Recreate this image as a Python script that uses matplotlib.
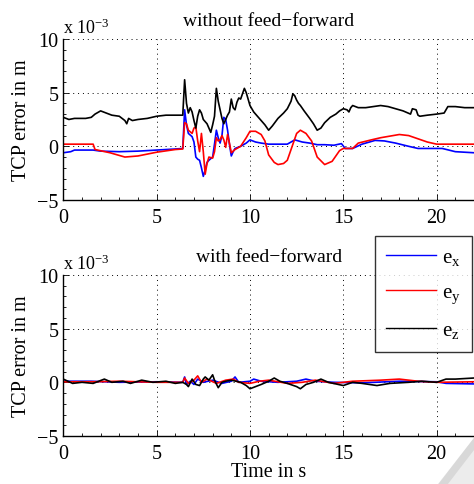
import numpy as np
import matplotlib.pyplot as plt
from matplotlib.ticker import MultipleLocator
from matplotlib.patches import Polygon

plt.rcParams['font.family'] = ['Liberation Serif', 'DejaVu Serif']
plt.rcParams['mathtext.fontset'] = 'stix'

# TCP error in 1e-3 m, (time in s, value)
ex_top = [(0, -0.6), (0.4, -0.5), (0.6, -0.35), (1.0, -0.35), (1.6, -0.35), (2.0, -0.45),
          (3.0, -0.5), (4.0, -0.45), (5.0, -0.35), (6.0, -0.25), (6.4, -0.2), (6.5, 3.4),
          (6.6, 2.0), (6.7, 1.2), (6.9, 0.9), (7.0, 0.4), (7.1, -1.0), (7.2, -1.2), (7.3, -1.3),
          (7.4, -2.0), (7.5, -2.8), (7.6, -2.2), (7.7, -1.5), (7.8, -1.3), (8.0, -1.0), (8.1, 0.2),
          (8.2, 1.5), (8.3, 0.8), (8.4, 0.3), (8.5, 1.0), (8.6, 2.7), (8.7, 2.5), (8.8, 1.5),
          (8.9, 0.2), (9.0, -0.9), (9.1, -0.5), (9.2, -0.2), (9.5, 0.0), (9.8, 0.3), (10.0, 0.6),
          (10.3, 0.4), (10.6, 0.3), (11.0, 0.2), (11.5, 0.2), (12.0, 0.2), (12.4, 0.6),
          (12.8, 0.4), (13.2, 0.3), (13.6, 0.15), (14.0, 0.15), (14.5, 0.1), (14.9, 0.25),
          (15.1, -0.2), (15.5, -0.2), (16.0, 0.2), (16.7, 0.55), (17.2, 0.5), (17.8, 0.3),
          (18.5, 0.0), (19.0, -0.2), (19.5, -0.2), (20.3, -0.2), (21.0, -0.5), (22.0, -0.6)]

ey_top = [(0, 0.2), (1.6, 0.2), (1.7, -0.3), (2.5, -0.6), (3.3, -1.0), (4.0, -0.9),
          (5.0, -0.55), (6.0, -0.3), (6.4, -0.25), (6.5, 2.2), (6.6, 2.1), (6.7, 1.5),
          (6.9, 1.2), (7.0, 1.7), (7.1, 1.8), (7.2, 0.5), (7.3, -0.5), (7.4, 1.2), (7.5, -0.5),
          (7.6, -2.6), (7.7, -1.6), (7.8, -1.0), (8.0, -1.1), (8.1, -0.5), (8.2, 0.8),
          (8.3, 0.5), (8.4, 0.6), (8.5, 1.0), (8.6, 0.6), (8.7, -0.1), (8.8, 1.1), (8.9, 0.3),
          (9.0, -0.6), (9.2, -0.3), (9.5, 0.0), (9.8, 0.8), (10.0, 1.4), (10.3, 1.4),
          (10.6, 1.1), (10.8, 0.5), (11.0, -0.8), (11.3, -1.5), (11.5, -1.7), (11.8, -1.6),
          (12.0, -1.3), (12.3, 0.2), (12.5, 1.2), (12.7, 1.5), (13.0, 1.2), (13.3, 0.5),
          (13.6, -1.0), (14.0, -1.7), (14.4, -1.4), (14.8, -0.4), (15.0, -0.2), (15.5, -0.2),
          (15.8, 0.3), (16.5, 0.6), (17.0, 0.8), (18.0, 1.1), (18.5, 1.0), (19.0, 0.7),
          (19.5, 0.4), (20.0, 0.2), (22.0, 0.2)]

ez_top = [(0, 2.7), (0.3, 2.5), (0.6, 2.6), (0.9, 2.6), (1.2, 2.6), (1.5, 2.7), (1.7, 3.0),
          (2.0, 3.3), (2.3, 3.1), (2.6, 2.9), (3.0, 2.8), (3.3, 2.4), (3.4, 2.1), (3.5, 2.6),
          (3.7, 2.4), (4.0, 2.5), (4.5, 2.6), (5.0, 2.8), (5.5, 2.9), (6.0, 2.9), (6.4, 2.9),
          (6.5, 6.2), (6.6, 4.0), (6.7, 3.1), (6.8, 3.6), (6.9, 3.2), (7.0, 2.4), (7.1, 1.7),
          (7.2, 2.8), (7.3, 3.4), (7.4, 3.1), (7.5, 2.5), (7.6, 2.3), (7.7, 2.1), (7.8, 1.7),
          (7.9, 1.3), (8.0, 2.0), (8.1, 2.8), (8.2, 5.4), (8.3, 4.2), (8.4, 3.4), (8.5, 2.6),
          (8.6, 2.1), (8.7, 2.5), (8.8, 2.9), (8.9, 3.2), (9.0, 4.4), (9.1, 3.6), (9.2, 3.4),
          (9.3, 4.1), (9.4, 4.5), (9.5, 4.4), (9.6, 4.9), (9.7, 5.4), (9.8, 5.0), (9.9, 4.4),
          (10.0, 3.8), (10.2, 3.2), (10.5, 2.6), (10.8, 2.0), (11.0, 1.5), (11.2, 1.9),
          (11.5, 2.6), (11.8, 3.1), (12.0, 3.5), (12.2, 4.2), (12.3, 4.9), (12.4, 4.7),
          (12.5, 4.3), (12.6, 4.0), (12.7, 3.8), (12.9, 3.3), (13.2, 2.6), (13.4, 2.1),
          (13.6, 1.5), (13.8, 1.7), (14.0, 2.2), (14.3, 2.7), (14.6, 3.0), (14.8, 3.3),
          (15.0, 3.5), (15.2, 3.4), (15.3, 3.2), (15.4, 3.6), (15.5, 3.8), (15.8, 3.6),
          (16.2, 3.6), (16.6, 3.7), (17.0, 3.8), (17.4, 3.7), (17.8, 3.5), (18.2, 3.3),
          (18.6, 3.0), (18.7, 3.5), (18.9, 3.4), (19.0, 2.9), (19.1, 2.8), (19.5, 2.9),
          (20.0, 3.0), (20.4, 3.1), (20.6, 3.7), (21.0, 3.7), (21.5, 3.6), (22.0, 3.6)]

ex_bot = [(0, 0.1), (1.5, 0.1), (3.0, 0.0), (5.0, 0.05), (6.4, 0.0), (6.5, 0.5), (6.6, -0.2),
          (6.8, 0.1), (7.0, -0.2), (7.2, 0.3), (7.5, 0.0), (8.0, 0.2), (8.5, -0.1), (9.0, 0.1),
          (9.2, 0.5), (9.4, 0.0), (10.0, 0.1), (10.2, 0.3), (10.6, 0.1), (11.5, 0.0),
          (12.5, 0.1), (13.0, 0.3), (13.5, 0.1), (14.5, 0.0), (16.0, -0.05), (18.0, 0.1),
          (20.0, 0.05), (20.5, -0.1), (22.0, -0.15)]

ey_bot = [(0, 0.05), (1.5, 0.05), (3.0, 0.1), (5.0, 0.0), (6.4, 0.0), (6.5, 0.4), (6.7, -0.1),
          (7.0, 0.2), (7.2, 0.6), (7.4, 0.0), (7.7, 0.3), (8.2, -0.1), (8.7, 0.2), (9.1, 0.3),
          (9.4, 0.0), (10.0, -0.1), (10.5, 0.1), (11.0, 0.2), (12.0, -0.1), (12.8, 0.0),
          (13.5, 0.2), (14.5, -0.1), (15.5, 0.1), (17.0, 0.2), (18.0, 0.3), (19.0, 0.1),
          (20.0, 0.0), (22.0, 0.05)]

ez_bot = [(0, 0.3), (0.5, -0.1), (1.0, 0.0), (1.6, -0.1), (2.2, 0.3), (2.6, 0.0), (3.2, 0.1),
          (3.6, -0.1), (4.2, 0.2), (4.8, 0.0), (5.5, 0.1), (6.0, -0.1), (6.4, 0.0), (6.6, -0.2),
          (6.7, -0.4), (6.9, 0.3), (7.1, -0.2), (7.3, -0.3), (7.5, 0.3), (7.6, 0.5), (7.8, 0.2),
          (8.0, 0.7), (8.1, 0.2), (8.3, -0.5), (8.5, 0.0), (8.7, 0.1), (9.0, 0.2), (9.5, 0.0),
          (9.8, -0.3), (10.0, -0.6), (10.3, -0.4), (10.6, -0.2), (11.0, 0.1), (11.3, 0.4),
          (11.6, 0.1), (12.0, -0.1), (12.5, -0.4), (12.7, -0.6), (13.0, -0.2), (13.4, 0.0),
          (13.8, 0.3), (14.2, 0.0), (15.0, -0.3), (15.5, 0.0), (16.0, -0.1), (16.8, -0.3),
          (17.5, -0.1), (18.5, 0.0), (19.2, 0.1), (20.0, 0.0), (20.5, 0.3), (21.0, 0.3),
          (22.0, 0.4)]

titles = ['without feed\u2212forward', 'with feed\u2212forward']
labels = ['$\\mathregular{e_x}$', '$\\mathregular{e_y}$', '$\\mathregular{e_z}$']
colors = ['#0000ff', '#ff0000', 'black']

fig = plt.figure(figsize=(4.74, 4.85), dpi=100)
ax1 = fig.add_axes([0.1335, 0.5856, 0.8665, 0.332])
ax2 = fig.add_axes([0.1335, 0.099, 0.8665, 0.332])

panels = [(ax1, [ex_top, ey_top, ez_top]), (ax2, [ex_bot, ey_bot, ez_bot])]
for i, (ax, series) in enumerate(panels):
    for s, c, lab in zip(series, colors, labels):
        t, v = zip(*s)
        ax.plot(t, np.array(v) * 1e-3, color=c, lw=1.2, label=lab)
    ax.set_xlim(0, 22)
    ax.set_ylim(-5e-3, 10e-3)
    ax.set_xticks([0, 5, 10, 15, 20])
    ax.set_yticks([-5e-3, 0, 5e-3, 10e-3])
    ax.set_yticklabels(['\u22125', '0', '5', '10'])
    ax.xaxis.set_minor_locator(MultipleLocator(1))
    ax.yaxis.set_minor_locator(MultipleLocator(1e-3))
    ax.tick_params(which='both', direction='in', labelsize=14.5, width=0.6)
    ax.tick_params(which='major', length=4)
    ax.tick_params(which='minor', length=2)
    ax.tick_params(axis='x', pad=6)
    ax.grid(True, which='major', linestyle=(0, (1, 4)), color='black', lw=0.7)
    for side in ['top', 'right']:
        ax.spines[side].set_visible(False)
    for side in ['left', 'bottom']:
        ax.spines[side].set_linewidth(1.0)
    ax.set_title(titles[i], fontsize=14, pad=10)
    ax.set_ylabel('TCP error in m', fontsize=14.5, labelpad=4)
    ax.text(0.0, 1.015, 'x 10$^{\\mathregular{\u22123}}$', transform=ax.transAxes,
            fontsize=13, ha='left', va='bottom')

ax2.set_xlabel('Time in s', fontsize=14.5, labelpad=-1)

leg = ax2.legend(loc='upper left', bbox_to_anchor=(375 / 474, 1 - 237 / 485),
                 bbox_transform=fig.transFigure, fontsize=15, frameon=True, fancybox=False,
                 handlelength=2.4, handletextpad=0.25, labelspacing=0.75, borderpad=0.55,
                 borderaxespad=0)
leg.get_frame().set_edgecolor('black')
leg.get_frame().set_linewidth(1.0)
for line in leg.get_lines():
    line.set_linewidth(1.0)

# page-curl shading in the corner
fig.patches.append(Polygon([[1.0, 0.095], [1.0, 0.0], [0.925, 0.0]], closed=True,
                           transform=fig.transFigure, facecolor='#ececec', edgecolor='none'))
fig.patches.append(Polygon([[1.0, 0.095], [0.925, 0.0], [0.945, 0.0], [1.0, 0.07]], closed=True,
                           transform=fig.transFigure, facecolor='#d8d8d8', edgecolor='none'))

fig.savefig('out.png', dpi=100)
